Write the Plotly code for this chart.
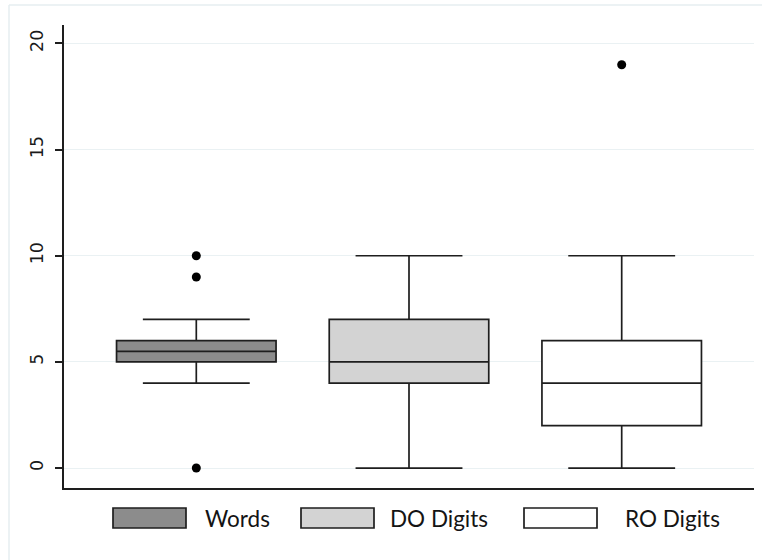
import plotly.graph_objects as go

# ---- data ----
groups = ["Words", "DO Digits", "RO Digits"]
q1 = [5, 4, 2]
median = [5.5, 5, 4]
q3 = [6, 7, 6]
lower_whisker = [4, 0, 0]
upper_whisker = [7, 10, 10]
outlier_group = ["Words", "Words", "Words", "RO Digits"]
outlier_value = [0, 9, 10, 19]
y_ticks = [0, 5, 10, 15, 20]

fills = ["#8c8c8c", "#d3d3d3", "#ffffff"]
edge = "#1e1e1e"

W, H = 762, 560
ML, MR, MT, MB = 64, 8, 25, 72
PW, PH = W - ML - MR, H - MT - MB


def px(x):
    return (x - ML) / PW


def py(y):
    return (H - MB - y) / PH


fig = go.Figure()
for i, g in enumerate(groups):
    fig.add_trace(go.Box(
        x=[g], q1=[q1[i]], median=[median[i]], q3=[q3[i]],
        lowerfence=[lower_whisker[i]], upperfence=[upper_whisker[i]],
        name=g, width=0.75, whiskerwidth=0.67, boxpoints=False,
        fillcolor=fills[i], line=dict(color=edge, width=1.7),
        showlegend=False, hoverinfo="skip",
    ))

fig.add_trace(go.Scatter(
    x=outlier_group, y=outlier_value, mode="markers",
    marker=dict(color="black", size=9), showlegend=False, hoverinfo="skip",
))

shapes = []
annotations = []
# faint outer graph-region frame (only left and top edges visible in the reference)
frame = dict(color="#e6eef0", width=1.5)
shapes.append(dict(type="line", xref="paper", yref="paper",
                   x0=px(9), x1=px(800), y0=py(5), y1=py(5), line=frame, layer="below"))
shapes.append(dict(type="line", xref="paper", yref="paper",
                   x0=px(9), x1=px(9), y0=py(5), y1=py(600), line=frame, layer="below"))

# custom legend
leg_rect_x = [113, 301, 524]
leg_text_x = [203, 388, 623]
for i, g in enumerate(groups):
    shapes.append(dict(type="rect", xref="paper", yref="paper",
                       x0=px(leg_rect_x[i]), x1=px(leg_rect_x[i] + 73),
                       y0=py(528), y1=py(508),
                       line=dict(color=edge, width=1.7), fillcolor=fills[i]))
    annotations.append(dict(text=g, xref="paper", yref="paper",
                            x=px(leg_text_x[i]), y=py(518),
                            xanchor="left", yanchor="middle", showarrow=False,
                            font=dict(family="Lato", size=22.5, color="#141414")))

fig.update_layout(
    width=W, height=H,
    margin=dict(l=ML, r=MR, t=MT, b=MB),
    paper_bgcolor="white", plot_bgcolor="white",
    shapes=shapes, annotations=annotations,
    xaxis=dict(type="category", categoryorder="array", categoryarray=groups,
               range=[-0.622, 2.622], showticklabels=False, ticks="",
               showgrid=False, zeroline=False, showline=True,
               linecolor=edge, linewidth=2),
    yaxis=dict(range=[-0.94, 20.87], tickvals=y_ticks,
               ticktext=[str(v) for v in y_ticks], tickangle=-90,
               ticks="outside", ticklen=7, tickwidth=1.5, tickcolor=edge,
               ticklabelstandoff=5,
               tickfont=dict(family="DejaVu Sans, Verdana, sans-serif", size=17.5,
                             color="#1a1a1a"),
               showgrid=True, gridcolor="#eaf1f3", gridwidth=1,
               zeroline=False, showline=True, linecolor=edge, linewidth=2),
)

fig.write_html("out.html", config={"displayModeBar": False},
               post_script="document.body.style.margin='0';document.body.style.padding='0';")
